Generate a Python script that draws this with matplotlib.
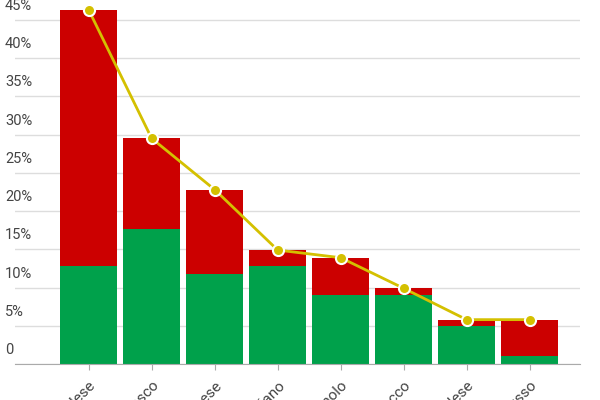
import numpy as np
import matplotlib
matplotlib.use("Agg")
import matplotlib.pyplot as plt
import matplotlib.transforms as mtransforms

languages = ["Inglese", "Tedesco", "Francese", "Italiano", "Spagnolo", "Polacco", "Olandese", "Russo"]
green_vals = [12.8, 17.6, 11.8, 12.8, 9, 9, 5, 1]
totals = [46.3, 29.5, 22.8, 14.9, 13.9, 9.9, 5.8, 5.8]
red_vals = [t - g for t, g in zip(totals, green_vals)]
yticks = [0, 5, 10, 15, 20, 25, 30, 35, 40, 45]

plt.rcParams['font.family'] = ['Roboto', 'DejaVu Sans']
fig = plt.figure(figsize=(6, 4), dpi=100)
ax = fig.add_axes([15/600, 36/400, 565/600, 364/400])

x = np.arange(len(languages))
ax.bar(x, green_vals, width=0.9, color="#00a14b", zorder=2)
ax.bar(x, red_vals, bottom=green_vals, width=0.9, color="#cc0000", zorder=2)
ax.plot(x, totals, color="#d4c000", lw=2, marker="o", ms=8,
        mfc="#d4c000", mec="white", mew=1.5, zorder=3, clip_on=False)

ax.set_xlim(-1.17, 7.8)
ax.set_ylim(0, 47.6)
ax.set_yticks(yticks)
ax.set_yticklabels([])
ax.tick_params(axis='y', length=0)
ax.grid(axis='y', color="#dddddd", lw=1, zorder=0)
trans = mtransforms.blended_transform_factory(fig.transFigure, ax.transData)
for t in yticks:
    ax.text(5/600, t + 0.9, "0" if t == 0 else f"{t}%", transform=trans,
            fontsize=10.5, color="#444444", ha="left", va="bottom")

ax.set_xticks(x)
ax.set_xticklabels(languages, rotation=45, ha="right", rotation_mode="anchor",
                   fontsize=11, color="#444444")
ax.tick_params(axis='x', length=4, color="#aaaaaa", pad=6)
for s in ["top", "right", "left"]:
    ax.spines[s].set_visible(False)
ax.spines["bottom"].set_color("#aaaaaa")

fig.savefig("out.png", dpi=100)
